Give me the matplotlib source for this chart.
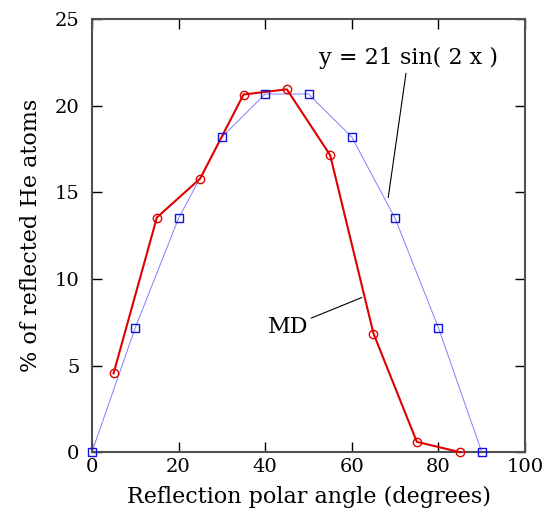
import matplotlib
matplotlib.use('Agg')
import matplotlib.pyplot as plt

# sin fit, every 10 degrees
fit_x = [0, 10, 20, 30, 40, 50, 60, 70, 80, 90]
fit_y = [0.0, 7.18, 13.5, 18.19, 20.68, 20.68, 18.19, 13.5, 7.18, 0.0]

# MD results
md_x = [5, 15, 25, 35, 45, 55, 65, 75, 85]
md_y = [4.55, 13.55, 15.8, 20.65, 20.95, 17.15, 6.85, 0.6, 0.0]

plt.rcParams['font.family'] = 'DejaVu Serif'

fig = plt.figure(figsize=(5.47, 5.18), dpi=100)
ax = fig.add_axes([0.168, 0.127, 0.792, 0.836])

ax.plot(fit_x, fit_y, color='#8080ff', lw=0.7, zorder=2)
ax.plot(fit_x, fit_y, ls='none', marker='s', ms=6, mfc='none', mec='#1010e0', mew=1.0,
        zorder=4, clip_on=False)
ax.plot(md_x, md_y, color='#e00000', lw=1.5, marker='o', ms=6, mfc='none', mec='#e00000',
        mew=1.0, zorder=3, clip_on=False)

ax.set_xlim(0, 100)
ax.set_ylim(0, 25)
ax.set_xticks([0, 20, 40, 60, 80, 100])
ax.set_yticks([0, 5, 10, 15, 20, 25])
ax.tick_params(direction='in', top=True, right=True, length=7, width=1, labelsize=14)
ax.tick_params(axis='y', pad=9)
ax.tick_params(axis='x', pad=4)
for s in ax.spines.values():
    s.set_color('#505050')
    s.set_linewidth(1.5)

ax.set_xlabel('Reflection polar angle (degrees)', fontsize=16, labelpad=7)
ax.set_ylabel('% of reflected He atoms', fontsize=16, labelpad=9)

ax.annotate('y = 21 sin( 2 x )', xy=(68.4, 14.7), xytext=(73, 22.75),
            ha='center', va='center', fontsize=16,
            arrowprops=dict(arrowstyle='-', color='black', lw=0.8, shrinkA=1, shrinkB=0))
ax.annotate('MD', xy=(62.3, 8.93), xytext=(45.3, 7.2),
            ha='center', va='center', fontsize=16,
            arrowprops=dict(arrowstyle='-', color='black', lw=0.8, shrinkA=0, shrinkB=0))

fig.savefig('out.png', dpi=100)
